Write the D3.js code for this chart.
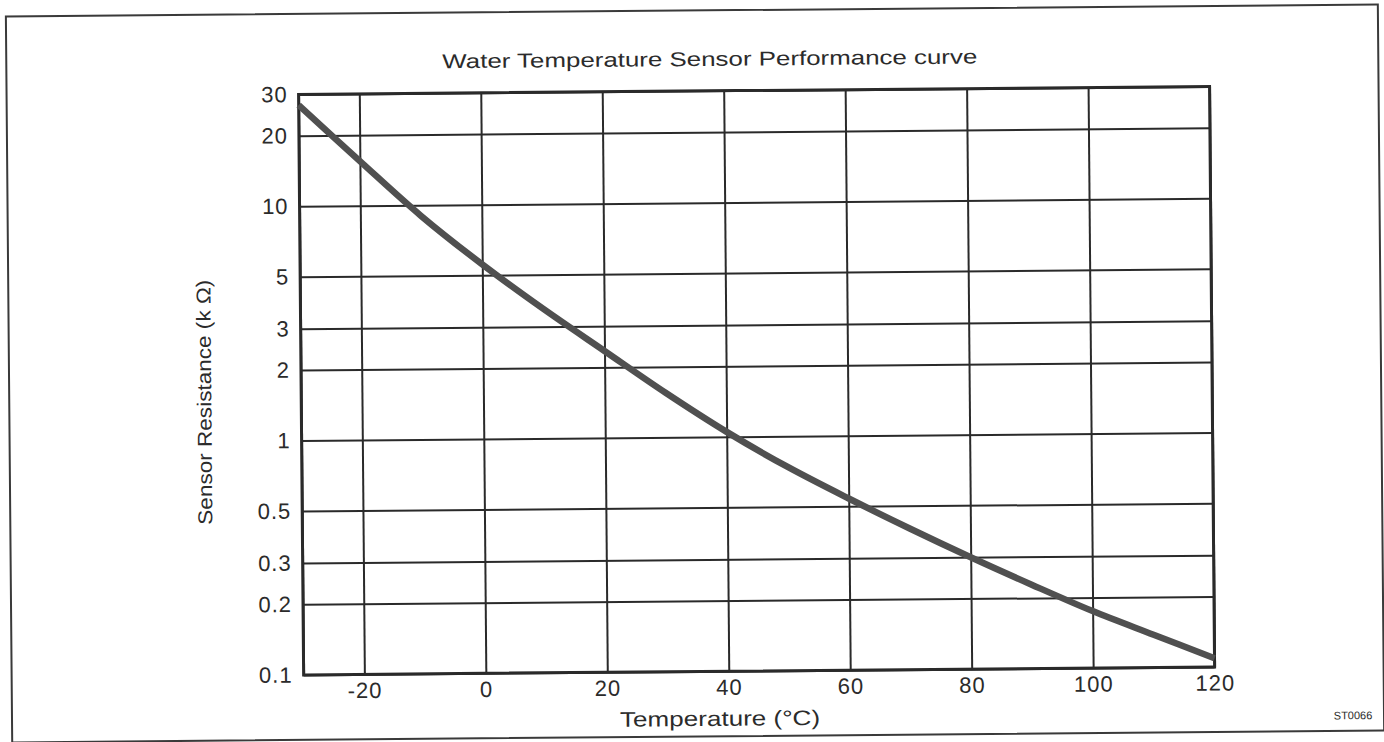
<!DOCTYPE html>
<html>
<head>
<meta charset="utf-8">
<script src="https://cdn.jsdelivr.net/npm/d3@7"></script>
<style>
  html, body { margin: 0; padding: 0; background: #ffffff; }
  svg { display: block; }
  text { font-family: "Liberation Sans", Arial, Helvetica, sans-serif; fill: #2b2b2b; }
</style>
</head>
<body>
<svg id="chart" width="1384" height="742"></svg>
<script>
// Thermistor characteristic: temperature (°C) vs resistance (kΩ)
const temperatures = [-30, -20, -10, 0, 10, 20, 30, 40, 50, 60, 70, 80, 90, 100, 110, 120];
const resistances  = [27, 15.5, 9.0, 5.56, 3.57, 2.35, 1.55, 1.05, 0.74, 0.54, 0.40, 0.30, 0.228, 0.175, 0.138, 0.109];

const xTicks = [-20, 0, 20, 40, 60, 80, 100, 120];
const xGrid = [-30, -20, 0, 20, 40, 60, 80, 100, 120];
const yTicks = [30, 20, 10, 5, 3, 2, 1, 0.5, 0.3, 0.2, 0.1];
const yTickLabels = ["30", "20", "10", "5", "3", "2", "1", "0.5", "0.3", "0.2", "0.1"];

const titleText = "Water Temperature Sensor Performance curve";
const xTitle = "Temperature (°C)";
const yTitle = "Sensor Resistance (k Ω)";
const figureCode = "ST0066";

const W = 1384, H = 742;
const plot = { left: 301, right: 1212, top: 91, bottom: 671.5 };
const ink = "#2a2a2a";
const fontStack = "'Liberation Sans', Arial, sans-serif";

const svg = d3.select("#chart");
// whole sheet sits at a slight tilt
const sheet = svg.append("g").attr("transform", `rotate(-0.5, ${W / 2}, ${H / 2})`);

// outer frame
sheet.append("rect")
  .attr("x", 9).attr("y", 10.5)
  .attr("width", 1372).attr("height", 726)
  .attr("fill", "none").attr("stroke", "#3a3a3a").attr("stroke-width", 2);

const x = d3.scaleLinear().domain([-30, 120]).range([plot.left, plot.right]);
const y = d3.scaleLog().domain([0.1, 30]).range([plot.bottom, plot.top]);

const g = sheet.append("g");

// horizontal grid + labels
const yAxis = d3.axisLeft(y)
  .tickValues(yTicks)
  .tickSize(-(plot.right - plot.left))
  .tickPadding(11)
  .tickFormat((d, i) => yTickLabels[i]);
const yg = g.append("g").attr("transform", `translate(${plot.left},0)`).call(yAxis);
yg.select(".domain").remove();
yg.selectAll(".tick line").attr("stroke", ink).attr("stroke-width", 2);
yg.selectAll(".tick text")
  .attr("font-size", 22).attr("letter-spacing", 1).attr("fill", "#2b2b2b")
  .attr("font-family", fontStack);

// vertical grid
const xAxisGrid = d3.axisBottom(x)
  .tickValues(xGrid)
  .tickSize(-(plot.bottom - plot.top))
  .tickFormat("");
const xgg = g.append("g").attr("transform", `translate(0,${plot.bottom})`).call(xAxisGrid);
xgg.select(".domain").remove();
xgg.selectAll(".tick line").attr("stroke", ink).attr("stroke-width", 2);

// x tick labels (plain hyphen for negatives)
const xAxis = d3.axisBottom(x).tickValues(xTicks).tickSize(0).tickPadding(8).tickFormat(d => String(d));
const xg = g.append("g").attr("transform", `translate(0,${plot.bottom})`).call(xAxis);
xg.select(".domain").remove();
xg.selectAll(".tick text")
  .attr("font-size", 22).attr("letter-spacing", 1).attr("fill", "#2b2b2b")
  .attr("font-family", fontStack);

// plot border
g.append("rect")
  .attr("x", plot.left).attr("y", plot.top)
  .attr("width", plot.right - plot.left).attr("height", plot.bottom - plot.top)
  .attr("fill", "none").attr("stroke", ink).attr("stroke-width", 3);

// resistance curve
const line = d3.line()
  .x((d, i) => x(temperatures[i]))
  .y(d => y(d))
  .curve(d3.curveCatmullRom.alpha(0.5));
g.append("path")
  .datum(resistances)
  .attr("d", line)
  .attr("fill", "none")
  .attr("stroke", "#505050")
  .attr("stroke-width", 6.5)
  .attr("stroke-linecap", "butt");

// titles
sheet.append("text")
  .attr("x", 712.5).attr("y", 66)
  .attr("text-anchor", "middle")
  .attr("font-size", 20)
  .attr("textLength", 535).attr("lengthAdjust", "spacingAndGlyphs")
  .text(titleText);

sheet.append("text")
  .attr("x", 717).attr("y", 726)
  .attr("text-anchor", "middle")
  .attr("font-size", 21)
  .attr("textLength", 200).attr("lengthAdjust", "spacingAndGlyphs")
  .text(xTitle);

sheet.append("text")
  .attr("transform", "translate(211,398) rotate(-90)")
  .attr("text-anchor", "middle")
  .attr("font-size", 20)
  .attr("textLength", 245).attr("lengthAdjust", "spacingAndGlyphs")
  .text(yTitle);

sheet.append("text")
  .attr("x", 1350).attr("y", 725)
  .attr("text-anchor", "middle")
  .attr("font-size", 11)
  .attr("fill", "#555")
  .text(figureCode);
</script>
</body>
</html>
